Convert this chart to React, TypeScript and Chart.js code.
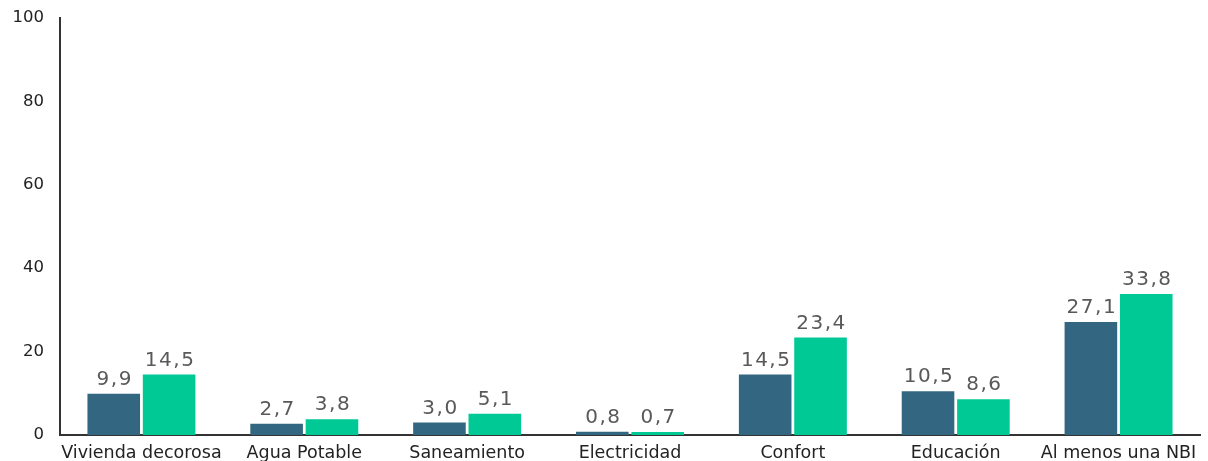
import React, { useEffect, useRef } from "react";
import { Chart, registerables } from "chart.js";

Chart.register(...registerables);

const categories = [
  "Vivienda decorosa",
  "Agua Potable",
  "Saneamiento",
  "Electricidad",
  "Confort",
  "Educación",
  "Al menos una NBI",
];
const seriesA = [9.9, 2.7, 3.0, 0.8, 14.5, 10.5, 27.1];
const seriesB = [14.5, 3.8, 5.1, 0.7, 23.4, 8.6, 33.8];
const seriesNames = ["Serie 1", "Serie 2"];
const colorA = "#336781";
const colorB = "#00C995";

const FONT = "'DejaVu Sans', Verdana, sans-serif";

const labelPlugin = {
  id: "valueLabels",
  afterDatasetsDraw(chart: any) {
    const ctx = chart.ctx;
    ctx.save();
    ctx.font = `20px ${FONT}`;
    (ctx as any).letterSpacing = "1.5px";
    ctx.fillStyle = "#595959";
    ctx.textAlign = "center";
    ctx.textBaseline = "bottom";
    chart.data.datasets.forEach((ds: any, i: number) => {
      const meta = chart.getDatasetMeta(i);
      meta.data.forEach((bar: any, j: number) => {
        const v = ds.data[j] as number;
        const txt = v.toFixed(1).replace(".", ",");
        ctx.fillText(txt, bar.x + 1, bar.y - 4);
      });
    });
    ctx.restore();
  },
};

export default function App() {
  const ref = useRef<HTMLCanvasElement>(null);
  useEffect(() => {
    if (!ref.current) return;
    const chart = new Chart(ref.current, {
      type: "bar",
      data: {
        labels: categories,
        datasets: [
          { label: seriesNames[0], data: seriesA, backgroundColor: colorA },
          { label: seriesNames[1], data: seriesB, backgroundColor: colorB },
        ],
      },
      options: {
        animation: false,
        responsive: true,
        maintainAspectRatio: false,
        layout: { padding: { top: 0, right: 8, left: 0, bottom: 0 } },
        plugins: { legend: { display: false }, tooltip: { enabled: false } },
        datasets: { bar: { categoryPercentage: 0.68, barPercentage: 0.95 } },
        scales: {
          x: {
            grid: { display: false, drawTicks: false },
            border: { display: true, color: "#333333", width: 2 },
            ticks: {
              color: "#222222",
              font: { family: FONT, size: 17.5 },
              padding: 8,
              maxRotation: 0,
              autoSkip: false,
            },
            afterFit(scale: any) {
              scale.height = 26;
            },
          },
          y: {
            min: 0,
            max: 100,
            grid: { display: false, drawTicks: false },
            border: { display: true, color: "#333333", width: 2 },
            ticks: {
              stepSize: 20,
              color: "#222222",
              font: { family: FONT, size: 16.5 },
              padding: 16,
            },
            afterFit(scale: any) {
              scale.width = 60;
              scale.paddingTop = 18;
              scale.paddingBottom = 0;
            },
          },
        },
      },
      plugins: [labelPlugin],
    });
    return () => chart.destroy();
  }, []);
  return (
    <div style={{ position: "fixed", left: 0, top: 0, width: 1208, height: 461, background: "#fff" }}>
      <canvas ref={ref} />
    </div>
  );
}
